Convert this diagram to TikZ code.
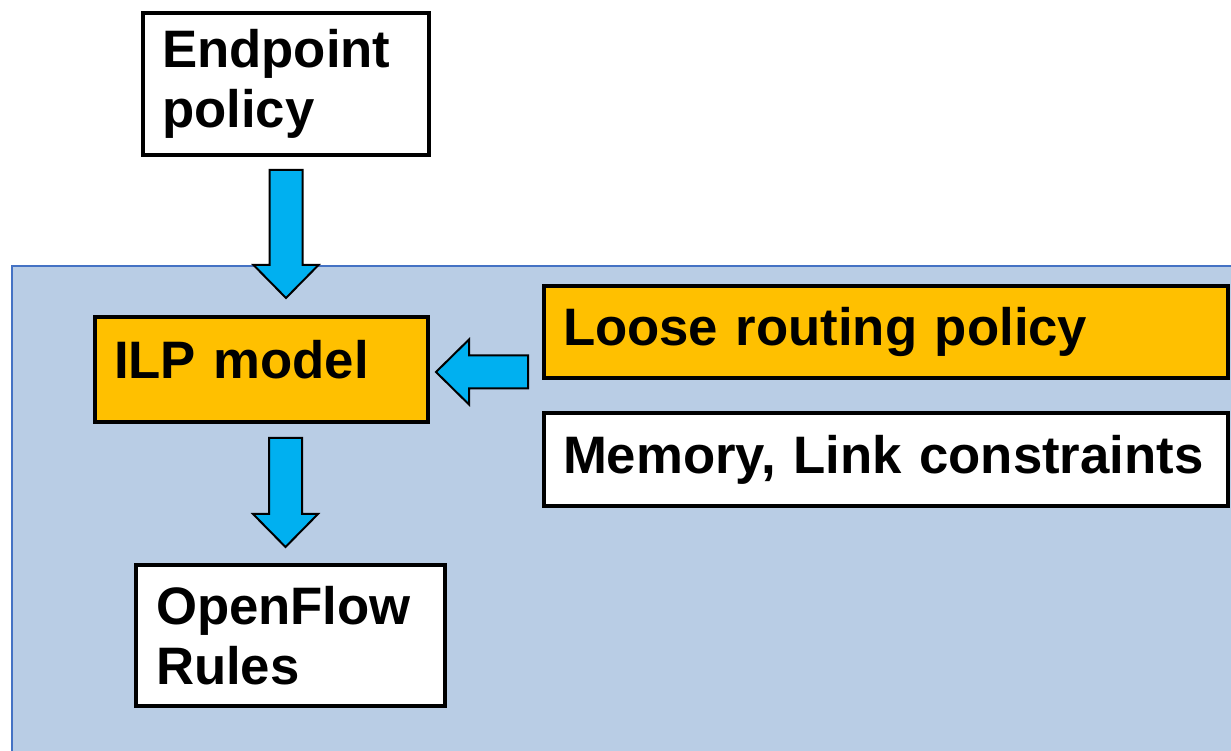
\documentclass[tikz,border=0pt]{standalone}
\usepackage{fontspec}
\setmainfont{Liberation Sans}
\usetikzlibrary{positioning, calc}

\definecolor{boxorange}{HTML}{FFC000}
\definecolor{arrowblue}{HTML}{00B0F0}
\definecolor{panelfill}{HTML}{B9CDE5}
\definecolor{panelline}{HTML}{4472C4}

\begin{document}
\begin{tikzpicture}[
box/.style={rectangle, draw=black, line width=0.08cm, anchor=north west, align=left, inner xsep=0.38cm, inner ysep=0pt, font=\fontsize{30}{34}\selectfont\bfseries},
whitebox/.style={box, fill=white},
orangebox/.style={box, fill=boxorange},
arrowline/.style={draw=black, line width=0.04cm, fill=arrowblue, line join=miter},
]

\tikzset{
  pics/blockarrow/.style={
     code={
         \draw [arrowline] (0,0.33) -- (#1-0.66,0.33) -- (#1-0.66,0.65) -- (#1,0) -- (#1-0.66,-0.65) -- (#1-0.66,-0.33) -- (0,-0.33) -- cycle;
     }
  }
}

\useasboundingbox (0,0) rectangle (24.62,-15.02);
\clip (0,0) rectangle (24.62,-15.02);

% Panel
\draw [draw=panelline, line width=0.04cm, fill=panelfill] (0.24,-5.32) rectangle (25,-16);

%Nodes
\node [whitebox, text width=4.96cm, minimum height=2.84cm] (endp) at (2.82,-0.22) {Endpoint\\policy};
\node [orangebox, text width=5.9cm, minimum height=2.1cm, text depth=0.4cm] (ilp) at (1.86,-6.3) {ILP model};
\node [orangebox, text width=12.92cm, minimum height=1.84cm] (loose) at (10.84,-5.68) {Loose routing policy};
\node [whitebox, text width=12.92cm, minimum height=1.86cm] (mem) at (10.84,-8.22) {Memory, Link constraints};
\node [whitebox, text width=5.38cm, minimum height=2.82cm, inner xsep=0.4cm] (ofr) at (2.68,-11.26) {OpenFlow\\Rules};

% Paths
\pic [rotate=-90] at ($(endp.south)+(0,-0.26)$) {blockarrow=2.56};
\pic [rotate=180] at ($(loose.west|-ilp.east)+(-0.28,-0.05)$) {blockarrow=1.84};
\pic [rotate=-90] at ($(ilp.south)+(0.48,-0.28)$) {blockarrow=2.18};
\end{tikzpicture}
\end{document}
